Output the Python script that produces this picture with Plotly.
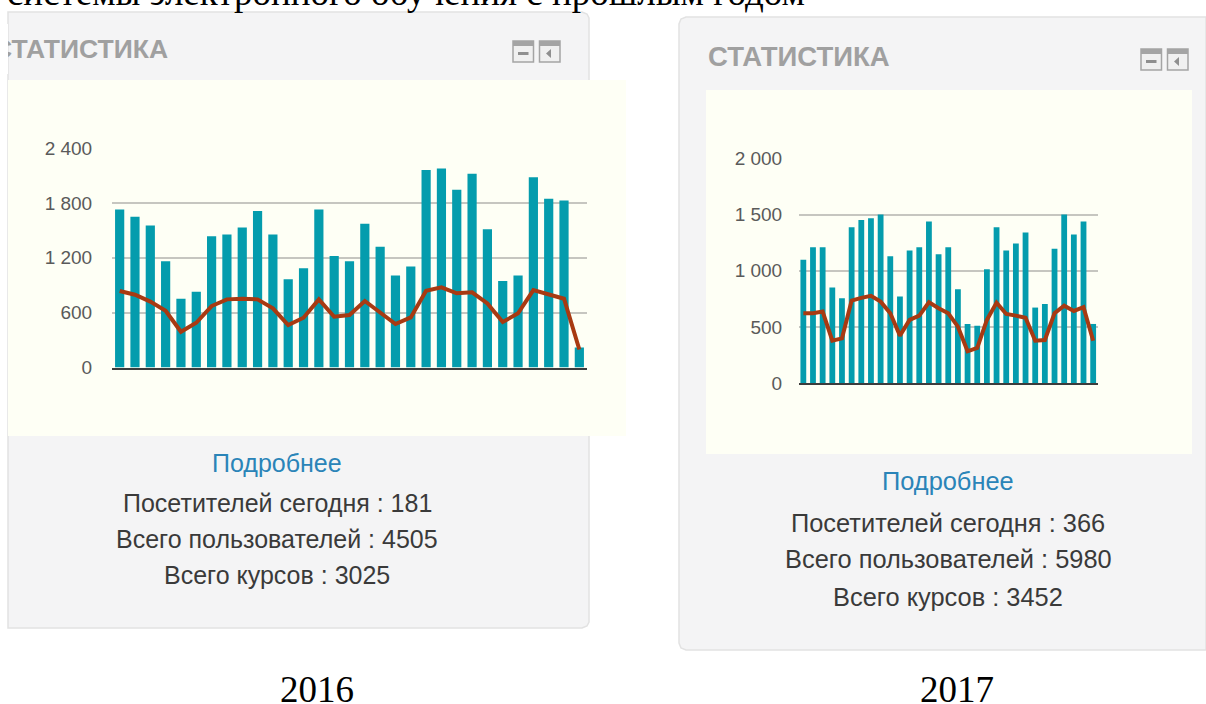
import plotly.graph_objects as go

W, H = 1206, 704

days = list(range(1, 32))
bars_2016 = [1728, 1647, 1553, 1162, 752, 829, 1436, 1454, 1531, 1710, 1454, 964, 1085, 1728, 1220, 1162,
             1571, 1319, 1005, 1103, 2159, 2177, 1943, 2119, 1512, 946, 1005, 2079, 1845, 1827, 219]
line_2016 = [837, 796, 720, 621, 391, 489, 672, 745, 752, 745, 647, 464, 544, 745, 555, 574,
             727, 599, 475, 548, 840, 877, 811, 822, 701, 497, 592, 847, 796, 752, 197]
bars_2017 = [1097, 1210, 1210, 850, 755, 1388, 1453, 1468, 1501, 1129, 770, 1180, 1210, 1438, 1147, 1210,
             835, 526, 511, 1013, 1388, 1180, 1242, 1340, 672, 704, 1195, 1501, 1322, 1438, 526]
line_2017 = [621, 621, 636, 377, 398, 734, 758, 776, 725, 621, 422, 562, 600, 719, 666, 621,
             502, 282, 312, 562, 716, 615, 600, 582, 377, 383, 621, 689, 642, 675, 377]
ticks_2016 = [0, 600, 1200, 1800, 2400]
ticklabels_2016 = ["0", "600", "1 200", "1 800", "2 400"]
ticks_2017 = [0, 500, 1000, 1500, 2000]
ticklabels_2017 = ["0", "500", "1 000", "1 500", "2 000"]

heading = "системы электронного обучения с прошлым годом"
panel_title = "СТАТИСТИКА"
more_link = "Подробнее"
lines_2016 = ["Посетителей сегодня : 181", "Всего пользователей : 4505", "Всего курсов : 3025"]
lines_2017 = ["Посетителей сегодня : 366", "Всего пользователей : 5980", "Всего курсов : 3452"]

BAR = "#049cad"
LINE = "#a83a12"
GRID = "#c6c6c0"
CREAM = "#fefff5"
PANEL = "#f4f4f5"
EDGE = "#e2e2e2"
ICON = "#a4a4a4"


def px(x):
    return x / W


def py(y):
    return 1 - y / H


fig = go.Figure()
fig.add_bar(x=days, y=bars_2016, marker=dict(color=BAR, line_width=0), xaxis="x", yaxis="y")
fig.add_scatter(x=days, y=line_2016, mode="lines", line=dict(color=LINE, width=4), xaxis="x", yaxis="y")
fig.add_bar(x=days, y=bars_2017, marker=dict(color=BAR, line_width=0), xaxis="x2", yaxis="y2")
fig.add_scatter(x=days, y=line_2017, mode="lines", line=dict(color=LINE, width=4), xaxis="x2", yaxis="y2")

shapes = []


def rect(x0, y0, x1, y1, fill, line=None, lw=0):
    shapes.append(dict(type="rect", xref="paper", yref="paper", x0=px(x0), x1=px(x1), y0=py(y0), y1=py(y1),
                       fillcolor=fill, line=dict(color=line or fill, width=lw), layer="below"))


def path(points, fill, line=None, lw=0):
    d = "M " + " L ".join(f"{px(a):.5f},{py(b):.5f}" for a, b in points) + " Z"
    shapes.append(dict(type="path", xref="paper", yref="paper", path=d, fillcolor=fill,
                       line=dict(color=line or fill, width=lw), layer="below"))


def icons(x, y):
    for dx in (0, 26.5):
        rect(x + dx, y, x + dx + 20.5, y + 21, "#f0f0f0", ICON, 1.5)
        rect(x + dx, y, x + dx + 20.5, y + 5, ICON)
    rect(x + 5, y + 11, x + 15.5, y + 14, "#8f8f8f")
    cx = x + 36
    path([(cx + 2, y + 8), (cx - 3, y + 12.5), (cx + 2, y + 17)], "#8f8f8f")


path([(8, 12), (582, 12), (587, 14), (589, 18), (589, 622), (587, 626), (582, 628), (8, 628)], PANEL, EDGE, 1.5)
rect(8, 80, 626, 436, CREAM)
icons(513, 41)
path([(1206, 17), (686, 17), (681, 19), (679, 24), (679, 643), (681, 648), (686, 650), (1206, 650)], PANEL, EDGE, 1.5)
rect(706, 90, 1192, 454, CREAM)
icons(1141, 49)

anns = []


def label(x, y, text, size, color, family="Liberation Sans", anchor="center", bold=False):
    anns.append(dict(xref="paper", yref="paper", x=px(x), y=py(y), xanchor=anchor, yanchor="middle",
                     text=f"<b>{text}</b>" if bold else text, showarrow=False,
                     font=dict(family=family, size=size, color=color), borderpad=0))


label(169, 49, panel_title, 26.5, "#a0a0a0", anchor="right", bold=True)
label(891, 57, panel_title, 27.5, "#a0a0a0", anchor="right", bold=True)
anns.append(dict(xref="paper", yref="paper", x=0, y=py(49), xanchor="left", yanchor="middle", text=" ",
                 showarrow=False, width=8, height=50, bgcolor="#ffffff", borderpad=0, borderwidth=0))
label(277, 463, more_link, 25, "#2a84b8")
label(948, 481, more_link, 25.4, "#2a84b8")
for y, t in zip((503, 539, 575), lines_2016):
    label(277, y, t, 25, "#3a3a3a")
for y, t in zip((523, 559, 597), lines_2017):
    label(948.5, y, t, 25.4, "#3a3a3a")
label(317, 689, "2016", 37, "#000000", "Liberation Serif")
label(957, 689, "2017", 37, "#000000", "Liberation Serif")

xcommon = dict(showgrid=False, showticklabels=False, ticks="", zeroline=False, showline=True,
               linecolor="#3c3c3c", linewidth=2, range=[0.5, 31.5], fixedrange=True)
ycommon = dict(showgrid=True, gridcolor=GRID, gridwidth=1.5, zeroline=False, showline=False, ticks="outside",
               tickcolor="rgba(0,0,0,0)", tickfont=dict(family="Liberation Sans", size=19, color="#5a5a5a"),
               fixedrange=True)

fig.update_layout(
    width=W, height=H, margin=dict(l=0, r=0, t=0, b=0, autoexpand=False), paper_bgcolor="#ffffff",
    plot_bgcolor="rgba(0,0,0,0)", showlegend=False, bargap=0.4, shapes=shapes, annotations=anns,
    title=dict(text=heading, x=px(805), xanchor="right", xref="container", y=1, yref="container", yanchor="top",
               pad=dict(t=-21), font=dict(family="Liberation Serif", size=37, color="#000000")),
    xaxis=dict(domain=[px(112), px(587)], anchor="y", **xcommon),
    yaxis=dict(domain=[py(367.5), py(148)], anchor="x", range=[0, 2400], tickvals=ticks_2016, ticklen=15,
               ticktext=ticklabels_2016, **ycommon),
    xaxis2=dict(domain=[px(798.5), px(1098)], anchor="y2", **xcommon),
    yaxis2=dict(domain=[py(383), py(158.5)], anchor="x2", range=[0, 2000], tickvals=ticks_2017, ticklen=11.5,
                ticktext=ticklabels_2017, **ycommon),
)

fig.write_html("out.html", config=dict(displayModeBar=False),
               post_script="document.body.style.margin='0';document.body.style.overflow='hidden';")
